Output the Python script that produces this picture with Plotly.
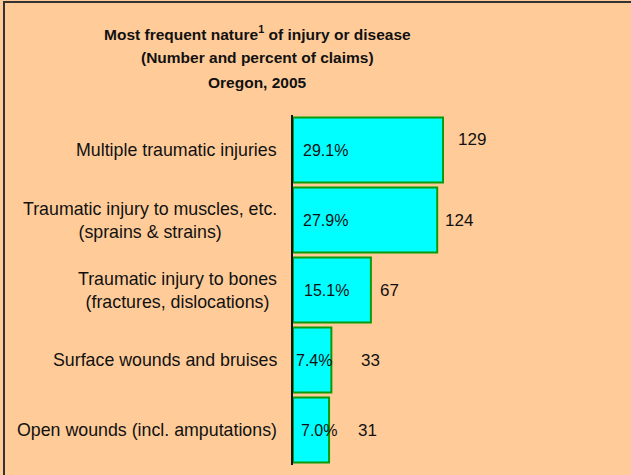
import plotly.graph_objects as go

categories = [
    "Multiple traumatic injuries",
    "Traumatic injury to muscles, etc.<br>(sprains & strains)",
    "Traumatic injury to bones<br>(fractures, dislocations)",
    "Surface wounds and bruises",
    "Open wounds (incl. amputations)",
]
claims = [129, 124, 67, 33, 31]
percents = ["29.1%", "27.9%", "15.1%", "7.4%", "7.0%"]
title_lines = [
    "Most frequent nature<sup>1</sup> of injury or disease",
    "(Number and percent of claims)",
    "Oregon, 2005",
]

# label placement tweaks (pixels)
count_xshift = [13, 6, 7, 28, 27]
count_yshift = [11, 0, 0, 0, 0]
pct_xshift = [8, 8, 9, 1, 6]

FONT = "Liberation Sans, Arial, sans-serif"
BG = "#FFCC99"

W, H = 631, 475
ML, MR, MT, MB = 293, 11, 115, 10
PW, PH = W - ML - MR, H - MT - MB

fig = go.Figure(
    go.Bar(
        x=claims,
        y=categories,
        orientation="h",
        marker=dict(color="#00FFFF", line=dict(color="#0a9a0a", width=2)),
        hoverinfo="skip",
    )
)

annotations = []
for cat, n, dx, dy in zip(categories, claims, count_xshift, count_yshift):
    annotations.append(dict(x=n, y=cat, xref="x", yref="y", text=str(n), showarrow=False,
                            xanchor="left", xshift=dx, yshift=dy,
                            font=dict(family=FONT, size=17, color="#111")))
for cat, p, dx in zip(categories, percents, pct_xshift):
    annotations.append(dict(x=0, y=cat, xref="x", yref="y", text=p, showarrow=False,
                            xanchor="left", xshift=dx,
                            font=dict(family=FONT, size=16, color="#111")))
for cat in categories:
    annotations.append(dict(x=0, y=cat, xref="paper", yref="y", text=cat, showarrow=False,
                            xanchor="right", align="center", xshift=-14,
                            font=dict(family=FONT, size=17.8, color="#111")))
title_cx = (257 - ML) / PW
for i, line in enumerate(title_lines):
    ypx = 33 + i * 24.5
    annotations.append(dict(x=title_cx, y=1 + (MT - ypx) / PH, xref="paper", yref="paper",
                            text="<b>" + line + "</b>", showarrow=False,
                            xanchor="center", yanchor="middle",
                            font=dict(family=FONT, size=15.5, color="#111")))

fig.update_layout(
    width=W, height=H,
    margin=dict(l=ML, r=MR, t=MT, b=MB),
    paper_bgcolor=BG, plot_bgcolor=BG,
    showlegend=False,
    bargap=0.071,
    annotations=annotations,
    xaxis=dict(range=[0, PW / (150 / 129)], visible=False, fixedrange=True),
    yaxis=dict(autorange="reversed", showticklabels=False, ticks="", showgrid=False,
               zeroline=False, showline=True, linecolor="#111", linewidth=2, fixedrange=True),
    shapes=[dict(type="rect", xref="paper", yref="paper",
                 x0=(4 - ML) / PW, x1=2, y0=-1, y1=1 + (MT - 2) / PH,
                 line=dict(color="#333", width=2), fillcolor="rgba(0,0,0,0)")],
)

fig.write_html(
    "out.html",
    config={"displayModeBar": False},
    post_script="document.body.style.margin='0';document.body.style.overflow='hidden';",
)
